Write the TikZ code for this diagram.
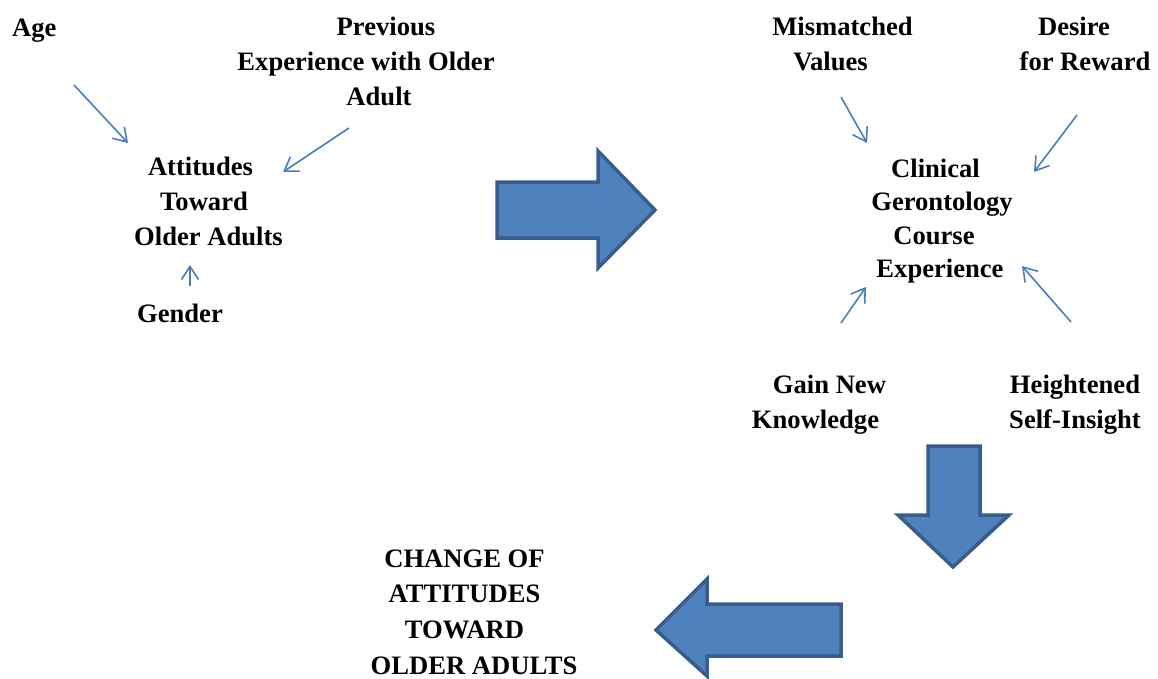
\documentclass[tikz,border=0pt]{standalone}
\usepackage{fontspec}
\setmainfont{Liberation Serif}
\usetikzlibrary{arrows.meta}
\definecolor{linkblue}{HTML}{4A7EBB}
\definecolor{blockfill}{HTML}{4F81BD}
\definecolor{blockedge}{HTML}{385D8A}
% shift a line of centred text right (\shr) or left (\shl) by half of #1 pt
\newcommand\shr[2]{\hbox{\kern#1pt #2}}
\newcommand\shl[2]{\hbox{#2\kern#1pt}}
\begin{document}
\begin{tikzpicture}[x=1pt,y=-1pt,
  lbl/.style={inner sep=0pt,align=center,font=\bfseries\fontsize{26.6}{35}\selectfont},
  link/.style={draw=linkblue,line width=1.6pt,-{Straight Barb[length=13pt,width=17pt,line width=1.6pt]}},
  block/.style={draw=blockedge,fill=blockfill,line width=3.5pt,line join=miter}]
\useasboundingbox (0,0) rectangle (1158,678);
% labels
\node[lbl,anchor=west] (age) at (12,31) {Age};
\node[lbl] (prev) at (366,61) {\shr{40}{Previous}\\Experience with Older\\\shr{26}{Adult}};
\node[lbl] (att) at (204,201) {\shl{7}{Attitudes}\\Toward\\\shr{9}{Older Adults}};
\node[lbl] (gender) at (180,313) {Gender};
\node[lbl] (mism) at (836.5,44) {\shr{12}{Mismatched}\\\shl{12}{Values}};
\node[lbl] (desire) at (1079.5,44) {\shl{11}{Desire}\\\shr{11}{for Reward}};
\node[lbl,font=\bfseries\fontsize{26.6}{33.5}\selectfont] (clin) at (938,221) {\shl{5}{Clinical}\\\shr{8}{Gerontology}\\\shl{8}{Course}\\\shr{4}{Experience}};
\node[lbl] (gain) at (822.5,405) {\shr{14}{Gain New}\\\shl{14}{Knowledge}};
\node[lbl] (high) at (1075,405) {Heightened\\Self-Insight};
\node[lbl,font=\bfseries\fontsize{26.6}{35.6}\selectfont] (change) at (464.5,612) {CHANGE OF\\ATTITUDES\\TOWARD\\\shr{19}{OLDER ADULTS}};
% connector end points
\coordinate (a1s) at (74,85);   \coordinate (a1e) at (128,143);
\coordinate (a2s) at (349,128); \coordinate (a2e) at (283,172);
\coordinate (a3s) at (190,286); \coordinate (a3e) at (190,265);
\coordinate (b1s) at (841,97);  \coordinate (b1e) at (867,143);
\coordinate (b2s) at (1077,115);\coordinate (b2e) at (1034,172);
\coordinate (b3s) at (841,323); \coordinate (b3e) at (866,287);
\coordinate (b4s) at (1071,322);\coordinate (b4e) at (1022,266);
\draw[link] (a1s) -- (a1e);
\draw[link] (a2s) -- (a2e);
\draw[link] (a3s) -- (a3e);
\draw[link] (b1s) -- (b1e);
\draw[link] (b2s) -- (b2e);
\draw[link] (b3s) -- (b3e);
\draw[link] (b4s) -- (b4e);
% block arrows
\draw[block] (497,182) -- (598,182) -- (598,151) -- (655,210) -- (598,268) -- (598,238) -- (497,238) -- cycle;
\draw[block] (928,446) -- (980,446) -- (980,515) -- (1009,515) -- (953,567) -- (898,515) -- (928,515) -- cycle;
\draw[block] (841,604) -- (707,604) -- (707,579) -- (656,630) -- (707,676) -- (707,656) -- (841,656) -- cycle;
\end{tikzpicture}
\end{document}
